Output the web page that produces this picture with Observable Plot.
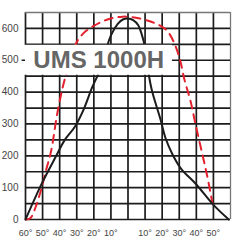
<!DOCTYPE html>
<html>
<head>
<meta charset="utf-8">
<script src="https://cdn.jsdelivr.net/npm/d3@7"></script>
<script src="https://cdn.jsdelivr.net/npm/@observablehq/plot@0.6"></script>
<style>
  html, body { margin: 0; padding: 0; background: #fff; }
</style>
</head>
<body>
<div id="chart"></div>
<script>
// Solid black curve (narrow beam): angle (deg), value
const blackAngle = [-60, -50, -42, -37, -31, -26, -21, -17, -13, -10, -6, -3, 0, 3, 6, 8, 10, 12, 14, 19, 22, 26, 31, 40, 50, 59];
const blackValue = [0, 118, 200, 250, 292, 345, 415, 462, 530, 578, 614, 628, 631, 626, 610, 582, 540, 460, 405, 315, 255, 205, 160, 110, 46, 0];

// Dashed red curve (wide beam)
const redAngle = [-60, -57, -54, -51, -48, -45, -41.5, -38, -35, -32, -29, -25, -20, -12, -3, 7, 14, 19, 23, 27, 30.5, 33, 36.5, 39.5, 43.3, 46.3, 49.5];
const redValue = [0, 5, 40, 91, 154, 215, 330, 420, 478, 532, 566, 590, 608, 628, 637, 631, 620, 608, 592, 555, 500, 440, 374, 300, 210, 138, 50];

const xTicks = [-60, -50, -40, -30, -20, -10, 10, 20, 30, 40, 50];
const yTicks = [0, 100, 200, 300, 400, 500, 600];
const xGrid = d3.range(-60, 61, 10);
const yGrid = d3.range(0, 651, 50);
const title = "UMS 1000H";

const black = blackAngle.map((a, i) => ({a, v: blackValue[i]}));
const red = redAngle.map((a, i) => ({a, v: redValue[i]}));
const box = [{bx1: -61, bx2: 26, by1: 453, by2: 547}];

const chart = Plot.plot({
  width: 240,
  height: 242,
  marginLeft: 25,
  marginRight: 10,
  marginTop: 12,
  marginBottom: 23,
  x: {domain: [-60, 60]},
  y: {domain: [0, 650]},
  style: {background: "white", fontFamily: "'Liberation Sans', Arial, sans-serif"},
  marks: [
    Plot.ruleX(xGrid.filter(d => d < 60), {stroke: "#1c1c1c", strokeWidth: 1.7}),
    Plot.ruleX([60], {stroke: "#777", strokeWidth: 1.3}),
    Plot.ruleY(yGrid.filter(d => d < 650), {stroke: "#1c1c1c", strokeWidth: 1.7}),
    Plot.ruleY([650], {stroke: "#777", strokeWidth: 1.3}),
    Plot.line(red, {x: "a", y: "v", stroke: "#e3202d", strokeWidth: 2, strokeDasharray: "8,6", curve: "catmull-rom"}),
    Plot.line(black, {x: "a", y: "v", stroke: "#1c1c1c", strokeWidth: 2, curve: "catmull-rom"}),
    Plot.rect(box, {x1: "bx1", x2: "bx2", y1: "by1", y2: "by2", fill: "#ffffff", stroke: "none"}),
    Plot.text([title], {x: -55.4, y: 500, text: d => d, textAnchor: "start", lineAnchor: "middle", fontSize: 24, fontWeight: "bold", fill: "#666"}),
    Plot.ruleY([500], {x1: -62, x2: -60, stroke: "#1c1c1c", strokeWidth: 1.5}),
    Plot.axisY({ticks: yTicks, tickSize: 0, tickPadding: 7, fontSize: 10, color: "#444"}),
    Plot.axisX({ticks: xTicks, tickFormat: d => Math.abs(d) + "°", tickSize: 0, tickPadding: 10, fontSize: 9, color: "#444"})
  ]
});
document.getElementById("chart").appendChild(chart);
</script>
</body>
</html>
